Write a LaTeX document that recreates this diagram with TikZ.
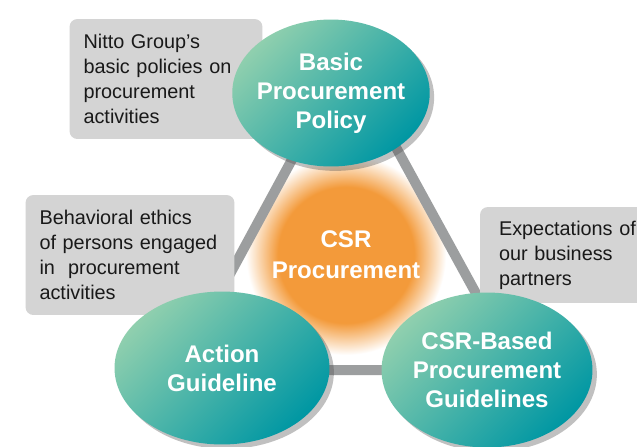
\documentclass[tikz,border=0pt]{standalone}
\usepackage{fontspec}
\setmainfont{Liberation Sans}
\usetikzlibrary{shapes.geometric,shadows}

\definecolor{tealpale}{HTML}{8FCFAE}
\definecolor{tealmid}{HTML}{10AFA5}
\definecolor{tealdeep}{HTML}{0097A3}
\definecolor{notegray}{HTML}{D4D4D4}
\definecolor{bargray}{HTML}{9C9E9F}
\definecolor{csrorange}{HTML}{F39A3A}
\pgfdeclareradialshading{csrglow}{\pgfpoint{0bp}{0bp}}{color(0bp)=(csrorange); color(17bp)=(csrorange); color(25bp)=(white); color(50bp)=(white)}

\tikzset{
  pillar/.style={ellipse, inner sep=-8pt, align=center, text=white,
    font=\bfseries\fontsize{13.7}{16.4}\selectfont,
    drop shadow={shadow xshift=2.5pt, shadow yshift=-2.5pt, opacity=0.35, fill=black!70},
    top color=tealpale, middle color=tealmid, bottom color=tealdeep, shading angle=45},
  note/.style={rectangle, rounded corners=4.5pt, fill=notegray, align=left,
    inner ysep=0pt, text=black!90, font=\fontsize{11.3}{14.2}\selectfont},
  bar/.style={draw=bargray, line width=0.2cm, line join=round},
  glow/.style={circle, inner sep=0pt, shading=csrglow, align=center, text=white,
    font=\bfseries\fontsize{13.7}{17.6}\selectfont}
}

\begin{document}
\begin{tikzpicture}[x=0.02cm, y=-0.02cm]
  \fill[white] (0,0) rectangle (637,447);
  \clip (0,0) rectangle (637,447);

  % orange hub
  \node[glow, minimum size=4cm] (csr) at (346,255) {CSR\\Procurement};

  % triangle of bars
  \coordinate (apex) at (347,58);
  \coordinate (left) at (178,370);
  \coordinate (right) at (518,370);
  \draw[bar] (apex) -- (left) -- (right) -- cycle;

  % notes
  \node[note, inner xsep=0.28cm, text width=3.3cm, minimum height=2.4cm] (policynote) at (166,79)
    {Nitto Group’s\\basic policies on\\procurement\\activities};
  \node[note, inner xsep=0.28cm, text width=3.62cm, minimum height=2.4cm] (actionnote) at (130,255)
    {Behavioral ethics\\of persons engaged\\in\ \ procurement\\activities};
  \node[note, inner xsep=0.38cm, text width=3cm, minimum height=1.92cm] (guidenote) at (574,255)
    {Expectations of\\our business\\partners};

  % pillars
  \node[pillar, minimum width=3.95cm, minimum height=2.94cm] (policy) at (331,93)
    {Basic\\Procurement\\Policy};
  \node[pillar, minimum width=4.3cm, minimum height=3.06cm] (action) at (222,368)
    {Action\\Guideline};
  \node[pillar, minimum width=4.22cm, minimum height=3.1cm] (guide) at (487,370)
    {CSR-Based\\Procurement\\Guidelines};
\end{tikzpicture}
\end{document}
